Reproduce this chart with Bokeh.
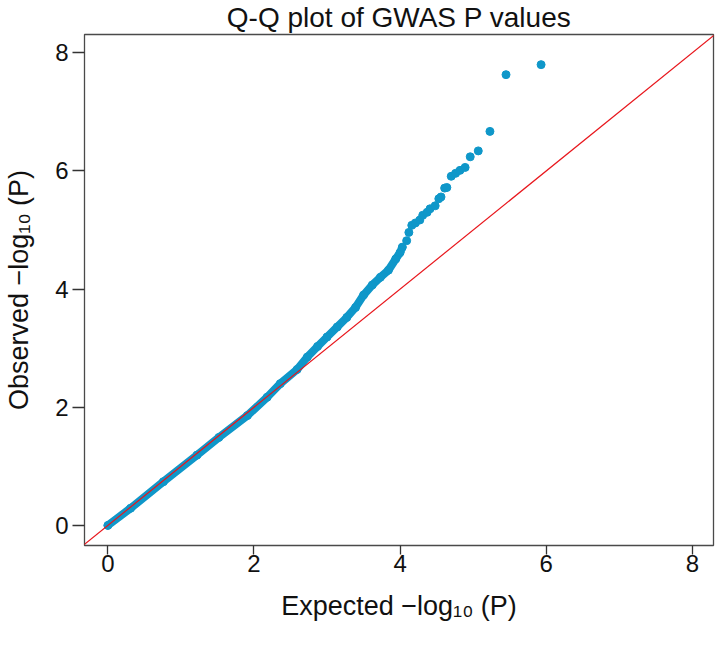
from bokeh.plotting import figure
from bokeh.models import Range1d, Slope
from bokeh.embed import file_html
from bokeh.resources import INLINE

# ---- text ----
title_text = "Q-Q plot of GWAS P values"
x_label = "Expected \u2212log\u2081\u2080 (P)"
y_label = "Observed \u2212log\u2081\u2080 (P)"
tick_values = [0, 2, 4, 6, 8]

# ---- data (expected vs observed -log10 P) ----
dense_expected = [0.00, 0.31, 0.76, 1.22, 1.52, 1.91, 2.18, 2.36, 2.59, 2.73, 2.87,
                  3.00, 3.14, 3.27, 3.39, 3.50, 3.62, 3.73, 3.84, 3.94, 4.00, 4.03]
dense_observed = [0.00, 0.29, 0.74, 1.19, 1.49, 1.86, 2.17, 2.40, 2.64, 2.85, 3.03,
                  3.19, 3.36, 3.52, 3.69, 3.90, 4.07, 4.20, 4.32, 4.51, 4.62, 4.71]
tail_expected = [4.09, 4.12, 4.16, 4.21, 4.27, 4.31, 4.37, 4.41, 4.48, 4.53, 4.56,
                 4.61, 4.64, 4.70, 4.76, 4.82, 4.89, 4.96, 5.07, 5.23, 5.45, 5.93]
tail_observed = [4.82, 4.96, 5.08, 5.12, 5.17, 5.25, 5.30, 5.36, 5.41, 5.53, 5.56,
                 5.71, 5.72, 5.91, 5.96, 6.01, 6.06, 6.24, 6.34, 6.67, 7.63, 7.80]

FONT = "Liberation Sans"
BLUE = "#0F97C9"
RED = "#E8161C"
FRAME = "#4A4A4A"

p = figure(frame_width=629, frame_height=511,
           min_border_left=84, min_border_right=5,
           min_border_top=34, min_border_bottom=105,
           x_range=Range1d(-0.32, 8.29), y_range=Range1d(-0.34, 8.31),
           output_backend="svg", toolbar_location=None, title=title_text)

p.background_fill_color = "white"
p.border_fill_color = "white"
p.outline_line_color = FRAME
p.outline_line_width = 1.3
p.xgrid.grid_line_color = None
p.ygrid.grid_line_color = None

p.title.text_font = FONT
p.title.text_font_size = "28px"
p.title.text_font_style = "normal"
p.title.text_color = "#111111"
p.title.align = "center"
p.title.standoff = 0
p.title.vertical_align = "top"

for ax in (p.xaxis[0], p.yaxis[0]):
    ax.ticker = tick_values
    ax.axis_line_color = None
    ax.major_tick_in = 0
    ax.major_tick_line_color = "#333333"
    ax.major_tick_line_width = 1.3
    ax.minor_tick_line_color = None
    ax.major_label_text_font = FONT
    ax.major_label_text_font_size = "24px"
    ax.major_label_text_color = "#111111"
    ax.axis_label_text_font = FONT
    ax.axis_label_text_font_size = "27px"
    ax.axis_label_text_font_style = "normal"
    ax.axis_label_text_color = "#111111"

p.xaxis.major_tick_out = 9
p.xaxis.major_label_standoff = 0
p.yaxis.major_tick_out = 12
p.yaxis.major_label_standoff = 4

p.xaxis.axis_label = x_label
p.yaxis.axis_label = y_label
p.xaxis.axis_label_standoff = 16
p.yaxis.axis_label_standoff = 18

# dense part of the Q-Q curve (overlapping points form a band)
p.line(dense_expected, dense_observed, line_width=8, line_color=BLUE,
       line_cap="round", line_join="round")
p.scatter(dense_expected, dense_observed, size=8, color=BLUE)
# sparse tail
p.scatter(tail_expected, tail_observed, size=8, color=BLUE)

# y = x reference line
p.add_layout(Slope(gradient=1, y_intercept=0, line_color=RED, line_width=1.2))

open("out.html", "w").write(file_html(p, INLINE))
